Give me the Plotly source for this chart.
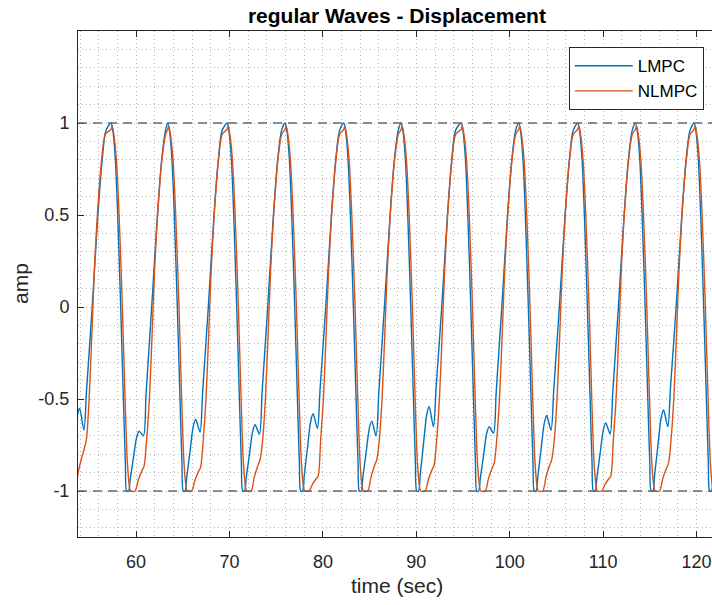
import plotly.graph_objects as go

# ---------------- data ----------------
# time of each LMPC crest (s); first entry is the partial cycle before the view
peak_times = [50.95, 57.32, 63.38, 69.74, 75.95, 82.23, 88.37, 94.80, 100.96, 107.28, 113.46, 119.73]
# LMPC small ripple after each trough: local max and local min
lmpc_bump_max = [-0.55, -0.675, -0.61, -0.64, -0.58, -0.62, -0.54, -0.65, -0.59, -0.63, -0.56, -0.60]
lmpc_bump_min = [-0.67, -0.70, -0.68, -0.69, -0.66, -0.70, -0.65, -0.685, -0.67, -0.69, -0.65, -0.68]
# NLMPC shoulder level on the way up from each trough, and its time shift vs. LMPC
nlmpc_shoulder = [-0.78, -0.865, -0.87, -0.83, -0.92, -0.83, -0.86, -0.85, -0.83, -0.92, -0.85, -0.86]
nlmpc_shift = [-0.08, 0.0, 0.0, 0.0, 0.0, 0.0, 0.0, 0.0, 0.0, 0.0, 0.0, 0.0]

# one-cycle shape (time after the LMPC crest, value)
lmpc_phase = [0.00, 0.21, 0.46, 0.71, 1.03, 1.32, 1.53, 1.67, 1.87]
lmpc_level = [1.00, 0.95, 0.80, 0.50, 0.00, -0.50, -0.85, -1.00, -1.00]
lmpc_rise_phase = [4.35, 4.96, 5.42, 5.83]
lmpc_rise_level = [0.00, 0.50, 0.80, 0.96]

nlmpc_phase = [0.00, 0.11, 0.32, 0.57, 0.86, 1.21, 1.50, 1.75, 1.98, 2.10, 2.57]
nlmpc_level = [0.965, 0.985, 0.93, 0.80, 0.50, 0.00, -0.50, -0.85, -0.98, -1.00, -1.00]
nlmpc_rise_phase = [3.81, 4.10, 4.39, 4.66, 4.98, 5.44, 5.85]
nlmpc_rise_level = [-0.72, -0.50, -0.15, 0.20, 0.50, 0.80, 0.94]

ref_levels = [1, -1]
x_ticks = [60, 70, 80, 90, 100, 110, 120]
y_ticks = [-1, -0.5, 0, 0.5, 1]

# ---------------- build the curves ----------------
t_l, y_l, t_n, y_n = [], [], [], []
for tp, bmax, bmin, sh, dt in zip(peak_times, lmpc_bump_max, lmpc_bump_min, nlmpc_shoulder, nlmpc_shift):
    ph = lmpc_phase + [2.05, 2.39, 2.74, 3.00, 3.46, 3.75] + lmpc_rise_phase
    lv = lmpc_level + [-1 + 0.2 * (bmax + 1), -1 + 0.55 * (bmax + 1), -1 + 0.9 * (bmax + 1),
                       bmax, bmin, bmin * 0.67] + lmpc_rise_level
    t_l += [tp + p for p in ph]
    y_l += lv
    ph = nlmpc_phase + [2.92, 3.28, 3.53] + nlmpc_rise_phase
    lv = nlmpc_level + [-1 + 0.45 * (sh + 1), -1 + 0.8 * (sh + 1), sh] + nlmpc_rise_level
    t_n += [tp + dt + p for p in ph]
    y_n += lv

BLUE = "#0072BD"
ORANGE = "#D95319"
AX = "#262626"
FONT = "Liberation Sans, Arial, sans-serif"
GRID = "#b4b4b4"

fig = go.Figure()
fig.add_trace(go.Scatter(x=t_l, y=y_l, mode="lines", name="LMPC",
                         line=dict(color=BLUE, width=1.4, shape="spline", smoothing=0.8)))
fig.add_trace(go.Scatter(x=t_n, y=y_n, mode="lines", name="NLMPC",
                         line=dict(color=ORANGE, width=1.4, shape="spline", smoothing=0.8)))

for lv in ref_levels:
    fig.add_shape(type="line", xref="paper", x0=0, x1=1, yref="y", y0=lv, y1=lv,
                  line=dict(color="#6a6a6a", width=1.4, dash="9px,6px"), layer="above")

fig.update_layout(
    width=712, height=605,
    margin=dict(l=78, r=0, t=31, b=68),
    paper_bgcolor="white", plot_bgcolor="white",
    font=dict(family=FONT, color=AX, size=18),
    title=dict(text="<b>regular Waves - Displacement</b>", font=dict(size=21, color="black", family=FONT),
               x=0.503, xanchor="center", xref="paper", y=1 - 16 / 605, yanchor="middle"),
    showlegend=True,
    legend=dict(x=0.987, xanchor="right", y=0.968, yanchor="top",
                bgcolor="white", bordercolor=AX, borderwidth=1,
                font=dict(size=17, color="black", family=FONT), itemwidth=58,
                tracegroupgap=0),
)

fig.update_xaxes(range=[53.78, 121.65], tickvals=x_ticks, ticks="inside", ticklen=6, tickcolor=AX,
                 showline=True, linecolor=AX, linewidth=1, mirror="ticks",
                 showgrid=True, gridcolor=GRID, griddash="1px,3px", gridwidth=1,
                 minor=dict(dtick=2, tick0=0, showgrid=True, gridcolor=GRID, griddash="1px,3px", ticks=""),
                 zeroline=False, tickfont=dict(size=18, color=AX), ticklabelstandoff=8)
fig.update_yaxes(range=[-1.25, 1.5], tickvals=y_ticks, ticktext=["-1", "-0.5", "0", "0.5", "1"],
                 ticks="inside", ticklen=6, tickcolor=AX,
                 showline=True, linecolor=AX, linewidth=1, mirror=False,
                 showgrid=True, gridcolor=GRID, griddash="1px,3px", gridwidth=1,
                 minor=dict(dtick=0.1, tick0=0, showgrid=True, gridcolor=GRID, griddash="1px,3px", ticks=""),
                 zeroline=False, tickfont=dict(size=18, color=AX), ticklabelstandoff=4)

fig.add_annotation(text="time (sec)", xref="paper", yref="paper", x=0.503, y=(537 - 585) / 506,
                   xanchor="center", yanchor="middle", showarrow=False,
                   font=dict(size=21, color=AX, family=FONT))
fig.add_annotation(text="amp", xref="paper", yref="paper", x=(20 - 78) / 634, y=0.5,
                   xanchor="center", yanchor="middle", showarrow=False, textangle=-90,
                   font=dict(size=21, color=AX, family=FONT))

fig.write_html("out.html")
